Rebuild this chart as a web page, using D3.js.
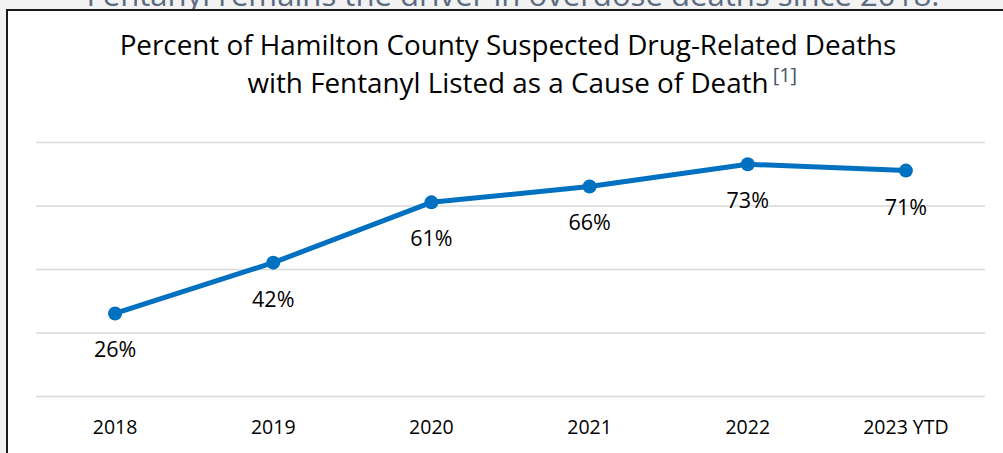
<!DOCTYPE html>
<html>
<head>
<meta charset="utf-8">
<script src="https://cdn.jsdelivr.net/npm/d3@7"></script>
<style>
  html, body { margin: 0; padding: 0; background: #f2f2f2; }
  svg { display: block; }
  text { font-family: "Open Sans", "Noto Sans", sans-serif; }
</style>
</head>
<body>
<svg id="chart" width="1003" height="453"></svg>
<script>
const categories = ["2018", "2019", "2020", "2021", "2022", "2023 YTD"];
const values = [26, 42, 61, 66, 73, 71];
const yTicks = [0, 20, 40, 60, 80];
const titleLines = ["Percent of Hamilton County Suspected Drug-Related Deaths", "with Fentanyl Listed as a Cause of Death"];
const footnote = "[1]";
const headerText = "Fentanyl remains the driver in overdose deaths since 2018.";

const svg = d3.select("#chart");
const W = 1003, H = 453;

// gray page background + cut-off header sentence
svg.append("rect").attr("width", W).attr("height", H).attr("fill", "#f2f2f2");
const hdr = svg.append("text")
  .attr("x", 513).attr("y", 6)
  .attr("text-anchor", "middle")
  .attr("font-size", 30)
  .attr("fill", "#5b6b80")
  .text(headerText);

// white chart box with dark border (extends past right/bottom)
svg.append("rect")
  .attr("x", 7).attr("y", 10)
  .attr("width", W + 20).attr("height", H + 20)
  .attr("fill", "#ffffff")
  .attr("stroke", "#1a1a1a")
  .attr("stroke-width", 2);

// title
const t1 = svg.append("text")
  .attr("x", 508).attr("y", 55)
  .attr("text-anchor", "middle")
  .attr("font-size", 24)
  .attr("fill", "#000")
  .text(titleLines[0]);
const t2 = svg.append("text")
  .attr("x", 508).attr("y", 93)
  .attr("text-anchor", "middle")
  .attr("font-size", 24)
  .attr("fill", "#000")
  .text(titleLines[1]);
function fit(sel, target) {
  const w = sel.node().getComputedTextLength();
  const fs = +sel.attr("font-size");
  sel.attr("font-size", fs * target / w);
}
fit(t1, 777);
fit(hdr, 853);
t2.attr("font-size", t1.attr("font-size"));
const t2w = t2.node().getComputedTextLength();
svg.append("text")
  .attr("x", 508 + t2w / 2 + 4).attr("y", 82)
  .attr("font-size", 20)
  .attr("fill", "#44546a")
  .text(footnote);

// scales
const x = d3.scaleBand().domain(categories).range([36, 985]);
const y = d3.scaleLinear().domain([0, 80]).range([396, 142]);
const cx = d => x(d) + x.bandwidth() / 2;

// gridlines
const grid = svg.append("g")
  .attr("transform", "translate(36,0)")
  .call(d3.axisLeft(y).tickValues(yTicks).tickSize(-(985 - 36)).tickFormat(""));
grid.select(".domain").remove();
grid.selectAll(".tick line").attr("stroke", "#d9d9d9").attr("stroke-width", 1.5);

// x axis labels
const xAxis = svg.append("g")
  .attr("transform", "translate(0,396)")
  .call(d3.axisBottom(x).tickSize(0).tickPadding(0));
xAxis.select(".domain").remove();
xAxis.selectAll(".tick text")
  .attr("y", 38)
  .attr("dy", 0)
  .attr("font-size", 19.5)
  .attr("font-family", "\"Open Sans\", sans-serif")
  .attr("fill", "#000");

// line
const data = categories.map((c, i) => ({ c, v: values[i] }));
svg.append("path")
  .datum(data)
  .attr("fill", "none")
  .attr("stroke", "#0070c0")
  .attr("stroke-width", 5)
  .attr("stroke-linejoin", "round")
  .attr("d", d3.line().x(d => cx(d.c)).y(d => y(d.v)));

svg.selectAll("circle.pt")
  .data(data).enter().append("circle")
  .attr("class", "pt")
  .attr("cx", d => cx(d.c))
  .attr("cy", d => y(d.v))
  .attr("r", 7)
  .attr("fill", "#0070c0");

svg.selectAll("text.lbl")
  .data(data).enter().append("text")
  .attr("class", "lbl")
  .attr("x", d => cx(d.c))
  .attr("y", d => y(d.v) + 44)
  .attr("text-anchor", "middle")
  .attr("font-size", 21.5)
  .attr("fill", "#000")
  .text(d => d.v + "%");
</script>
</body>
</html>
